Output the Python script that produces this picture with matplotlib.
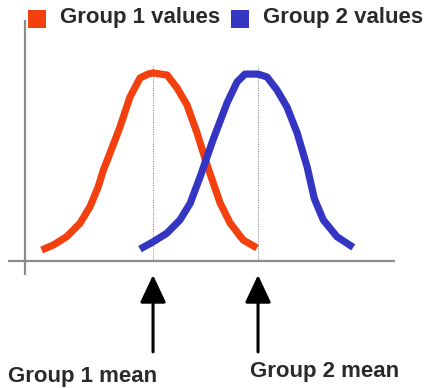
import matplotlib.pyplot as plt

# red curve (group 1)
g1_x = [6.5, 11.1, 16.3, 21.5, 25.4, 28.6, 30.6, 33.2, 37.1, 41.0, 44.9, 48.0,
        50.0, 55.5, 59.4, 63.3, 67.2, 71.1, 76.2, 80.1, 85.2, 90.6]
g1_y = [0.058, 0.085, 0.129, 0.200, 0.288, 0.393, 0.481, 0.571, 0.709, 0.868,
        0.968, 0.989, 0.995, 0.984, 0.915, 0.825, 0.677, 0.508, 0.307, 0.201,
        0.111, 0.069]

# blue curve (group 2)
g2_x = [44.9, 50.1, 55.4, 60.5, 64.5, 68.4, 73.4, 78.9, 82.8, 85.9, 91.0,
        94.5, 98.4, 102.3, 106.3, 110.2, 113.0, 116.5, 121.8, 128.2]
g2_y = [0.063, 0.102, 0.147, 0.217, 0.305, 0.446, 0.640, 0.836, 0.947, 0.989,
        0.989, 0.974, 0.905, 0.815, 0.677, 0.497, 0.330, 0.217, 0.129, 0.072]

means = [50.0, 91.0]
mean_labels = ['Group 1 mean', 'Group 2 mean']
legend_labels = ['Group 1 values', 'Group 2 values']
colors = ['#f2400f', '#3535c4']

plt.rcParams['font.family'] = ['Liberation Sans', 'DejaVu Sans']

fig = plt.figure(figsize=(4.27, 3.88), dpi=100)
ax = fig.add_axes([0, 0, 1, 1])
ax.set_xlim(-9.77, 157.0)
ax.set_ylim(-0.672, 1.381)
ax.axis('off')

# axes drawn by hand
ax.plot([-6.6, 144.5], [0, 0], color='#8c8c8c', lw=1.6, solid_capstyle='butt')
ax.plot([0, 0], [-0.074, 1.275], color='#8c8c8c', lw=1.6, solid_capstyle='butt')

# dotted mean lines
for m in means:
    ax.plot([m, m], [0, 1.03], color='#777777', lw=0.7, ls=(0, (1, 1.5)))

ax.plot(g1_x, g1_y, color=colors[0], lw=5.2, solid_capstyle='butt', solid_joinstyle='round')
ax.plot(g2_x, g2_y, color=colors[1], lw=5.2, solid_capstyle='butt', solid_joinstyle='round')

# arrows pointing at the means
for m in means:
    ax.annotate('', xy=(m, -0.074), xytext=(m, -0.481),
                arrowprops=dict(arrowstyle='-|>,head_width=0.4,head_length=0.85',
                                mutation_scale=20, lw=2.2, color='black',
                                shrinkA=0, shrinkB=0))

ax.text(-6.6, -0.61, mean_labels[0], fontsize=16, fontweight='bold',
        color='#2a2a2a', ha='left', va='center')
ax.text(88.0, -0.587, mean_labels[1], fontsize=16, fontweight='bold',
        color='#2a2a2a', ha='left', va='center')

# legend squares and labels
leg_x = [4.7, 84.0]
for i in range(2):
    ax.scatter([leg_x[i]], [1.28], marker='s', s=150, color=colors[i], linewidths=0)
    ax.text(leg_x[i] + 9.0, 1.29, legend_labels[i], fontsize=16, fontweight='bold',
            color='#2a2a2a', ha='left', va='center')

fig.savefig('out.png', dpi=100)
